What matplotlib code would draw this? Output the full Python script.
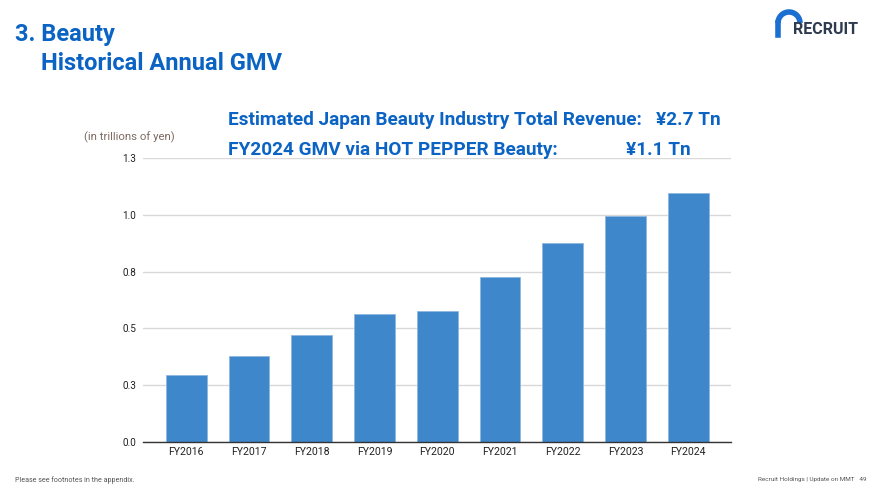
import matplotlib
matplotlib.use("Agg")
import matplotlib.pyplot as plt
from matplotlib.patches import Arc
from matplotlib.lines import Line2D

# data (trillions of yen)
years = ["FY2016", "FY2017", "FY2018", "FY2019", "FY2020",
         "FY2021", "FY2022", "FY2023", "FY2024"]
gmv = [0.294, 0.376, 0.470, 0.563, 0.575, 0.726, 0.875, 0.994, 1.095]
yticks = [0.0, 0.25, 0.5, 0.75, 1.0, 1.25]
ytick_labels = ["0.0", "0.3", "0.5", "0.8", "1.0", "1.3"]

BLUE = "#0b63c4"
BAR = "#3f87cb"
plt.rcParams["font.family"] = ["Roboto", "DejaVu Sans"]

fig = plt.figure(figsize=(8.84, 4.88), dpi=100)
ax = fig.add_axes([143 / 884, 1 - 441.7 / 488, 588 / 884, (441.7 - 158.3) / 488])

x = range(len(years))
ax.bar(x, gmv, width=0.65, color=BAR, edgecolor="#8fb8e0", linewidth=0.6, zorder=2)
ax.set_xlim(-0.69, 8.68)
ax.set_ylim(0, 1.25)
ax.set_yticks(yticks)
ax.set_yticklabels(ytick_labels)
ax.set_xticks(list(x))
ax.set_xticklabels(years)
ax.grid(axis="y", color="#d9d9d9", lw=1.0, zorder=0)
for s in ("top", "right", "left"):
    ax.spines[s].set_visible(False)
ax.spines["bottom"].set_color("#333333")
ax.spines["bottom"].set_linewidth(1.0)
ax.tick_params(axis="y", length=0, labelsize=7.2, colors="#222222", pad=5)
ax.tick_params(axis="x", length=0, labelsize=7.6, colors="#222222", pad=4)

# titles
fig.text(15 / 884, 1 - 35 / 488, "3. Beauty", color=BLUE, fontsize=17,
         fontweight="bold", va="center", ha="left")
fig.text(41 / 884, 1 - 64 / 488, "Historical Annual GMV", color=BLUE, fontsize=17,
         fontweight="bold", va="center", ha="left")

# headline figures
hs = 13.7
fig.text(228 / 884, 1 - 120 / 488, "Estimated Japan Beauty Industry Total Revenue:",
         color=BLUE, fontsize=hs, fontweight="bold", va="center")
fig.text(656 / 884, 1 - 120 / 488, "¥2.7 Tn", color=BLUE, fontsize=hs,
         fontweight="bold", va="center")
fig.text(228 / 884, 1 - 150 / 488, "FY2024 GMV via HOT PEPPER Beauty:",
         color=BLUE, fontsize=hs, fontweight="bold", va="center")
fig.text(626 / 884, 1 - 150 / 488, "¥1.1 Tn", color=BLUE, fontsize=hs,
         fontweight="bold", va="center")

fig.text(129 / 884, 1 - 137 / 488, "(in trillions of yen)", color="#7d6b62",
         fontsize=8.2, va="center", ha="center")

# logo
fig.text(793 / 884, 1 - 29 / 488, "RECRUIT", color="#2e3b4e", fontsize=11.5,
         fontweight="bold", va="center", ha="left")
fig.patches.append(Arc((789 / 884, 1 - 23 / 488), 22 / 884, 22 / 488, theta1=0,
                       theta2=180, color="#1a6fd0", lw=4, transform=fig.transFigure))
fig.lines.append(Line2D([778 / 884, 778 / 884], [1 - 23 / 488, 1 - 35 / 488],
                        color="#1a6fd0", lw=4, transform=fig.transFigure))

# footer
fig.text(15 / 884, 1 - 480 / 488, "Please see footnotes in the appendix.",
         color="#555555", fontsize=5.1, va="center")
fig.text(866 / 884, 1 - 480 / 488, "Recruit Holdings | Update on MMT   49",
         color="#555555", fontsize=4.6, va="center", ha="right")

fig.savefig("out.png", dpi=100)
